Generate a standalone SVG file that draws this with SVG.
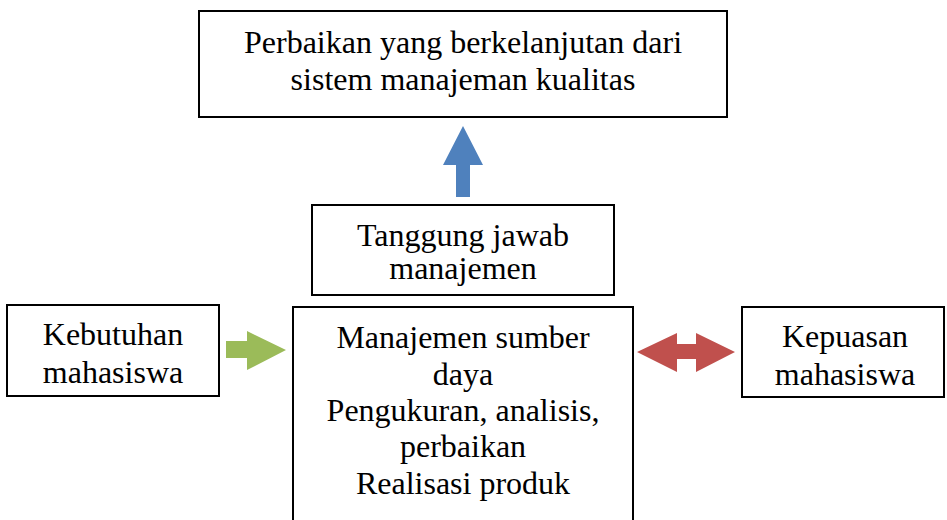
<svg xmlns="http://www.w3.org/2000/svg" width="947" height="520" viewBox="0 0 947 520">
<style>
.box{fill:#fff;stroke:#000;stroke-width:2}
.t{font-family:'Liberation Serif','Times New Roman',serif;font-size:32px;fill:#000;text-anchor:middle}
</style>
<rect width="947" height="520" fill="#fff"/>
<g id="connectors">
<polygon points="463,126 483,165 470,165 470,197 456,197 456,165 443,165" fill="#4f81bd"/>
<polygon points="226,341 247,341 247,331 286,350 247,370 247,358 226,358" fill="#9bbb59"/>
<polygon points="637,352 677,333 677,344 696,344 696,333 735,352 696,372 696,359 677,359 677,372" fill="#c0504d"/>
</g>
<g id="top">
<rect class="box" x="199" y="11" width="528" height="106"/>
<text class="t" x="463" y="53">Perbaikan yang berkelanjutan dari</text>
<text class="t" x="463" y="90">sistem manajeman kualitas</text>
</g>
<g id="tanggung">
<rect class="box" x="312" y="205" width="302" height="90"/>
<text class="t" x="463" y="246">Tanggung jawab</text>
<text class="t" x="463" y="279">manajemen</text>
</g>
<g id="kebutuhan">
<rect class="box" x="7" y="305" width="212" height="91"/>
<text class="t" x="113" y="345">Kebutuhan</text>
<text class="t" x="113" y="383">mahasiswa</text>
</g>
<g id="center">
<rect class="box" x="293" y="307" width="340" height="230"/>
<text class="t" x="463" y="348">Manajemen sumber</text>
<text class="t" x="463" y="385">daya</text>
<text class="t" x="463" y="421">Pengukuran, analisis,</text>
<text class="t" x="463" y="457">perbaikan</text>
<text class="t" x="463" y="494">Realisasi produk</text>
</g>
<g id="kepuasan">
<rect class="box" x="742" y="307" width="202" height="90"/>
<text class="t" x="845" y="347">Kepuasan</text>
<text class="t" x="845" y="385">mahasiswa</text>
</g>
</svg>
